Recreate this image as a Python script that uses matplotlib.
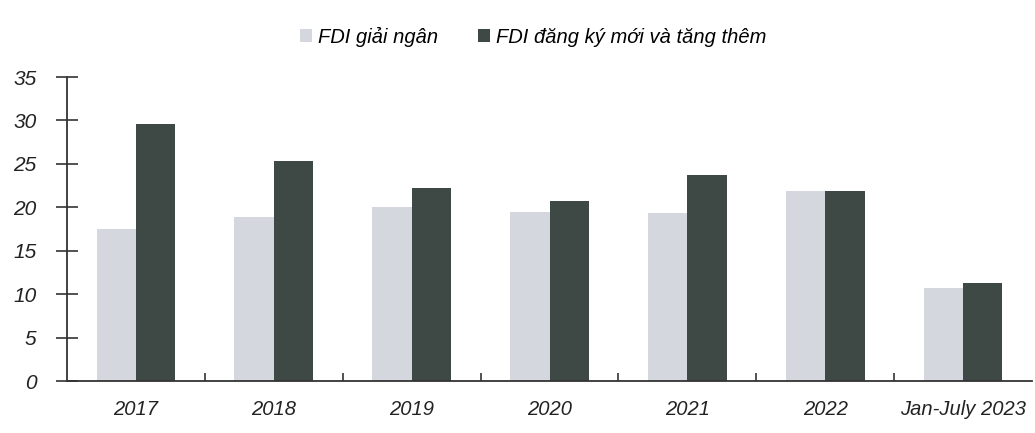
import numpy as np
import matplotlib.pyplot as plt
from matplotlib.ticker import FixedLocator

categories = ["2017", "2018", "2019", "2020", "2021", "2022", "Jan-July 2023"]
disbursed = [17.5, 18.9, 20.0, 19.5, 19.3, 21.9, 10.7]
registered = [29.6, 25.3, 22.2, 20.7, 23.7, 21.9, 11.3]
series_names = ["FDI giải ngân", "FDI đăng ký mới và tăng thêm"]

LIGHT = "#d4d7dd"
DARK = "#3e4844"

plt.rcParams["font.family"] = ["Liberation Sans Narrow", "Liberation Sans", "DejaVu Sans"]

fig = plt.figure(figsize=(10.35, 4.33), dpi=100)
ax = fig.add_axes([0.0647, 0.120, 0.9325, 0.702])

x = np.arange(len(categories))
w = 0.285
ax.bar(x - w / 2, disbursed, w, color=LIGHT, label=series_names[0])
ax.bar(x + w / 2, registered, w, color=DARK, label=series_names[1])

ax.set_xlim(-0.5, len(categories) - 0.5)
ax.set_ylim(0, 35)
ax.set_yticks(range(0, 36, 5))
ax.set_xticks(x)
ax.set_xticklabels(categories, style="italic", fontsize=14.5, color="#222222")
ax.tick_params(axis="x", which="major", length=0, pad=14)
ax.xaxis.set_minor_locator(FixedLocator(x[:-1] + 0.5))
ax.tick_params(axis="x", which="minor", direction="in", length=6, width=1.2, color="#333333")
ax.tick_params(axis="y", direction="inout", length=16, width=1.2, color="#333333",
               labelsize=15, pad=14, labelcolor="#222222")
for lbl in ax.get_yticklabels():
    lbl.set_style("italic")

for s in ("top", "right"):
    ax.spines[s].set_visible(False)
ax.spines["left"].set_linewidth(1.3)
ax.spines["bottom"].set_linewidth(1.3)
ax.spines["left"].set_color("#333333")
ax.spines["bottom"].set_color("#333333")

fig.legend(loc="upper center", bbox_to_anchor=(0.515, 0.98), ncol=2, frameon=False,
           handlelength=0.6, handleheight=0.6, handletextpad=0.3, columnspacing=2.0,
           prop={"style": "italic", "size": 14.5})

fig.savefig("out.png", dpi=100)
